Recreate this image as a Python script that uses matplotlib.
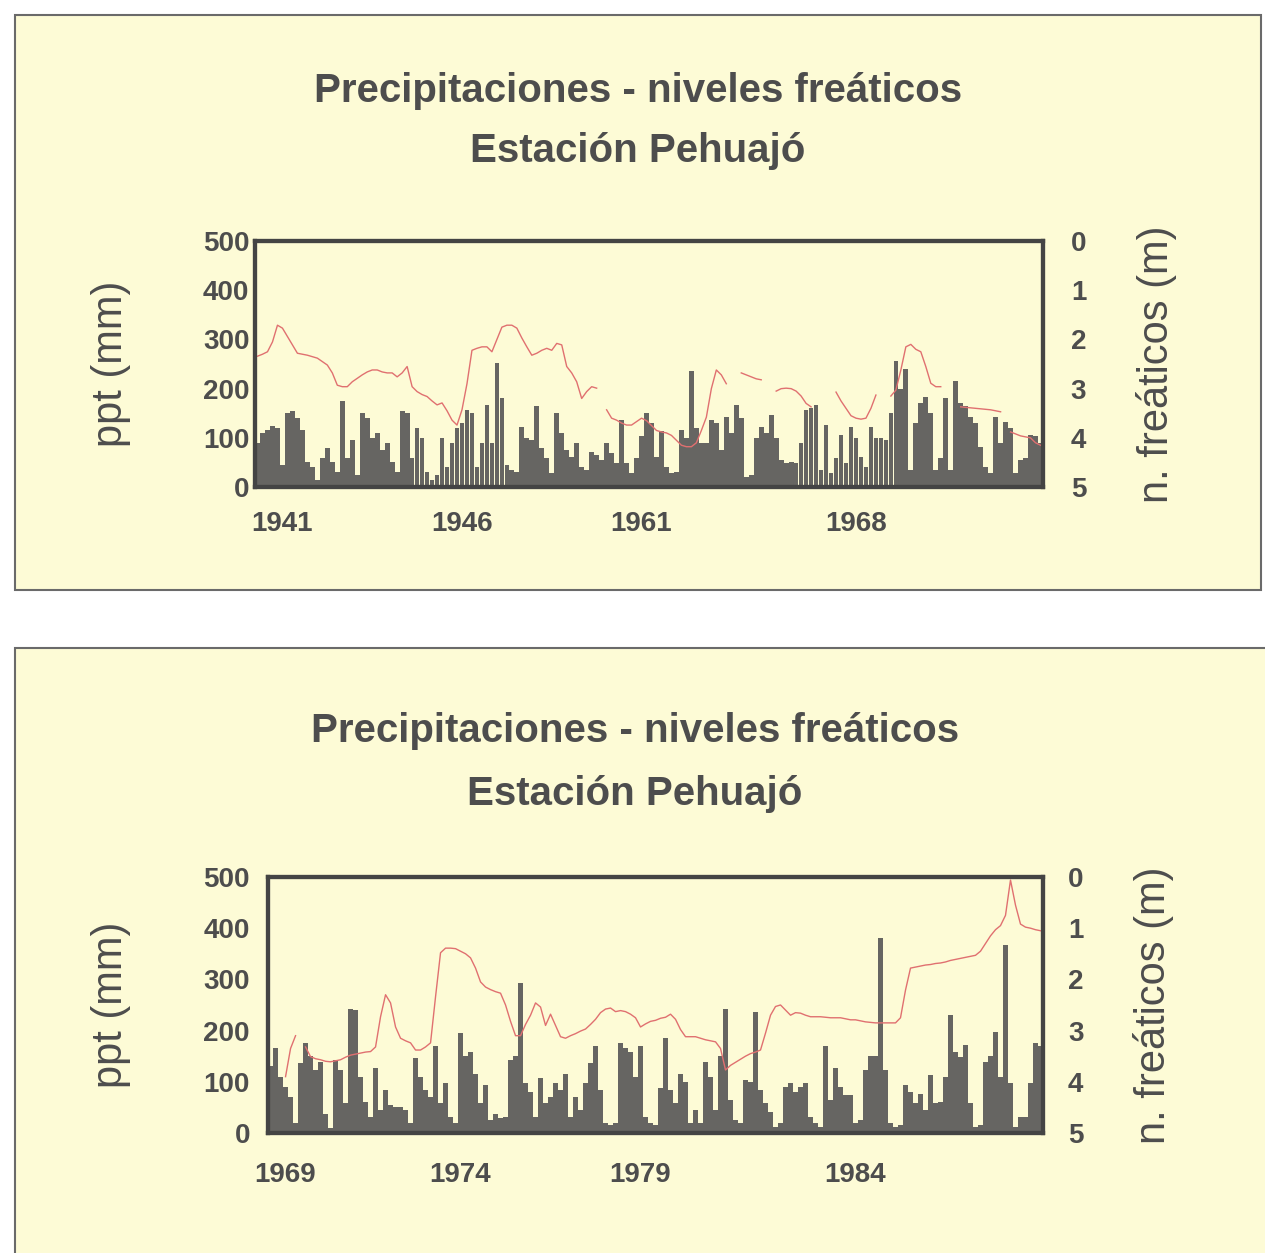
import numpy as np
import matplotlib
matplotlib.use("Agg")
from matplotlib import pyplot as plt
from matplotlib.patches import Rectangle

nan = np.nan

# monthly precipitation (mm) and water table depth (m), panel 1
ppt_top = [90, 110, 115, 125, 120, 45, 150, 155, 140, 115,
           50, 40, 15, 60, 80, 50, 30, 175, 60, 95,
           25, 150, 140, 100, 110, 75, 90, 50, 30, 155,
           150, 60, 120, 100, 30, 15, 25, 100, 40, 90,
           120, 130, 157, 150, 40, 90, 167, 90, 252, 180,
           45, 35, 30, 123, 100, 96, 164, 80, 60, 28,
           150, 110, 75, 62, 89, 40, 35, 72, 65, 55,
           89, 70, 48, 137, 48, 28, 60, 103, 150, 130,
           62, 113, 40, 28, 30, 116, 100, 235, 120, 89,
           89, 137, 130, 75, 143, 110, 167, 140, 20, 25,
           100, 123, 110, 147, 100, 55, 48, 50, 48, 89,
           157, 160, 167, 35, 127, 28, 60, 106, 48, 123,
           100, 62, 40, 123, 100, 100, 95, 150, 256, 200,
           240, 35, 130, 170, 184, 150, 35, 60, 181, 35,
           215, 170, 164, 143, 130, 82, 40, 28, 143, 89,
           133, 120, 28, 55, 60, 106, 103, 90]
lvl_top = [2.34, 2.30, 2.25, 2.05, 1.71, 1.77, 1.94, 2.11, 2.28, 2.30,
           2.32, 2.35, 2.38, 2.45, 2.52, 2.68, 2.93, 2.96, 2.96, 2.86,
           2.79, 2.72, 2.66, 2.62, 2.62, 2.66, 2.68, 2.68, 2.76, 2.68,
           2.55, 2.96, 3.06, 3.12, 3.16, 3.25, 3.33, 3.29, 3.45, 3.64,
           3.74, 3.43, 2.90, 2.22, 2.18, 2.15, 2.15, 2.25, 2.00, 1.75,
           1.71, 1.71, 1.77, 1.97, 2.15, 2.32, 2.28, 2.22, 2.18, 2.22,
           2.08, 2.11, 2.55, 2.68, 2.86, 3.20, 3.06, 2.96, 2.99, nan,
           3.43, 3.60, 3.64, 3.70, 3.74, 3.74, 3.67, 3.60, 3.65, 3.75,
           3.85, 3.88, 3.90, 3.95, 4.05, 4.15, 4.18, 4.18, 4.10, 3.85,
           3.58, 3.00, 2.62, 2.72, 2.90, nan, nan, 2.68, 2.72, 2.76,
           2.80, 2.82, nan, nan, 3.05, 3.00, 2.99, 3.00, 3.05, 3.15,
           3.30, 3.37, nan, nan, nan, nan, 3.07, 3.25, 3.40, 3.55,
           3.60, 3.62, 3.60, 3.40, 3.13, nan, nan, 3.15, 3.03, 2.62,
           2.15, 2.10, 2.20, 2.25, 2.55, 2.89, 2.96, 2.96, nan, nan,
           nan, 3.37, 3.38, 3.39, 3.40, 3.41, 3.42, 3.43, 3.45, 3.47,
           nan, 3.88, 3.92, 3.96, 3.98, 4.00, 4.10, 4.15]
years_top = ["1941", "1946", "1961", "1968"]
year_idx_top = [5, 41, 77, 120]

# panel 2
ppt_bot = [130, 165, 110, 90, 71, 19, 136, 175, 150, 123,
           139, 38, 10, 143, 123, 58, 243, 240, 110, 60,
           32, 126, 45, 84, 55, 51, 50, 45, 19, 146,
           110, 84, 71, 169, 58, 97, 32, 20, 195, 150,
           159, 116, 58, 94, 25, 38, 30, 32, 143, 150,
           292, 97, 80, 32, 107, 58, 70, 97, 84, 116,
           32, 71, 45, 97, 136, 169, 84, 19, 15, 19,
           175, 165, 159, 110, 169, 32, 19, 15, 87, 185,
           84, 58, 116, 100, 19, 45, 20, 139, 110, 45,
           150, 243, 64, 25, 19, 104, 100, 237, 84, 58,
           40, 12, 20, 90, 97, 80, 90, 97, 32, 20,
           12, 169, 64, 126, 90, 74, 74, 19, 25, 123,
           150, 150, 380, 123, 20, 12, 15, 94, 80, 58,
           77, 45, 113, 58, 60, 110, 230, 159, 149, 172,
           58, 12, 15, 139, 150, 198, 110, 367, 97, 12,
           32, 32, 97, 175, 170]
lvl_bot = [nan, nan, nan, 3.90, 3.35, 3.10, nan, 3.32, 3.51, 3.55,
           3.57, 3.60, 3.61, 3.59, 3.57, 3.52, 3.48, 3.46, 3.44, 3.42,
           3.41, 3.32, 2.73, 2.30, 2.46, 2.93, 3.15, 3.20, 3.24, 3.38,
           3.38, 3.32, 3.24, 2.34, 1.48, 1.39, 1.39, 1.40, 1.45, 1.50,
           1.58, 1.78, 2.05, 2.15, 2.20, 2.24, 2.27, 2.50, 2.82, 3.10,
           3.10, 2.88, 2.70, 2.46, 2.54, 2.90, 2.68, 2.90, 3.12, 3.15,
           3.10, 3.06, 3.01, 2.97, 2.88, 2.78, 2.65, 2.58, 2.56, 2.63,
           2.61, 2.63, 2.68, 2.75, 2.93, 2.87, 2.82, 2.80, 2.76, 2.74,
           2.68, 2.78, 2.98, 3.12, 3.12, 3.12, 3.15, 3.18, 3.20, 3.22,
           3.35, 3.77, 3.68, 3.62, 3.56, 3.50, 3.45, 3.42, 3.38, 3.05,
           2.70, 2.53, 2.50, 2.60, 2.70, 2.65, 2.66, 2.70, 2.73, 2.73,
           2.73, 2.74, 2.75, 2.75, 2.75, 2.77, 2.79, 2.79, 2.81, 2.83,
           2.84, 2.85, 2.85, 2.85, 2.85, 2.85, 2.75, 2.21, 1.78, 1.76,
           1.74, 1.72, 1.71, 1.69, 1.68, 1.66, 1.63, 1.61, 1.59, 1.57,
           1.55, 1.53, 1.45, 1.30, 1.15, 1.03, 0.95, 0.75, 0.06, 0.55,
           0.92, 0.98, 1.00, 1.03, 1.05]
years_bot = ["1969", "1974", "1979", "1984"]
year_idx_bot = [3, 38, 74, 117]

plt.rcParams["font.family"] = ["Liberation Sans", "DejaVu Sans"]
txt = "#4d4d4d"
paper = "#fdfbd6"

fig = plt.figure(figsize=(12.65, 12.53), dpi=100, facecolor="white")

# the two scanned chart frames (behind the axes)
fig.patches.append(Rectangle((0.012, 0.529), 0.985, 0.459, transform=fig.transFigure,
                             facecolor=paper, edgecolor="#6a6a6a", lw=1.5, zorder=-5))
fig.patches.append(Rectangle((0.012, -0.02), 1.0, 0.503, transform=fig.transFigure,
                             facecolor=paper, edgecolor="#6a6a6a", lw=1.5, zorder=-5))


def panel(rect, ppt, lvl, years, year_idx, cx, title_y1, title_y2, xpad, ypad, rpad):
    ax = fig.add_axes(rect)
    x = np.arange(len(ppt))
    ax.bar(x, ppt, width=0.95, color="#555555", alpha=0.9, linewidth=0)
    ax.set_xlim(-0.5, len(ppt) - 0.5)
    ax.set_ylim(0, 500)
    ax.set_yticks([0, 100, 200, 300, 400, 500])
    ax.set_xticks(year_idx)
    ax.set_xticklabels(years)
    ax.set_facecolor(paper)
    ax.tick_params(axis="both", length=0, labelsize=20, colors=txt)
    ax.tick_params(axis="x", pad=xpad)
    ax.tick_params(axis="y", pad=ypad)
    for lab in ax.get_xticklabels() + ax.get_yticklabels():
        lab.set_fontweight("bold")
    ax.set_ylabel("ppt (mm)", fontsize=30, color=txt, labelpad=52)

    ax2 = ax.twinx()
    ax2.plot(x, lvl, color="#e07070", lw=1.0)
    ax2.set_ylim(5, 0)
    ax2.set_yticks([0, 1, 2, 3, 4, 5])
    ax2.tick_params(axis="y", length=0, labelsize=20, colors=txt, pad=rpad)
    for lab in ax2.get_yticklabels():
        lab.set_fontweight("bold")
    ax2.set_ylabel("n. freáticos (m)", fontsize=30, color=txt, labelpad=36)

    for a in (ax, ax2):
        for s in a.spines.values():
            s.set_color("#444444")
            s.set_linewidth(3)

    fig.text(cx, title_y1, "Precipitaciones - niveles freáticos", ha="center", va="center",
             fontsize=29, fontweight="bold", color=txt)
    fig.text(cx, title_y2, "Estación Pehuajó", ha="center", va="center",
             fontsize=29, fontweight="bold", color=txt)
    return ax, ax2


panel([0.2016, 0.6113, 0.6229, 0.1963], ppt_top, lvl_top, years_top, year_idx_top,
      638 / 1265, 1 - 91 / 1253, 1 - 151 / 1253, 17, 4, 20)
panel([0.2119, 0.0958, 0.6126, 0.2043], ppt_bot, lvl_bot, years_bot, year_idx_bot,
      635 / 1265, 1 - 731 / 1253, 1 - 794 / 1253, 21, 13, 18)

fig.savefig("out.png", dpi=100, facecolor="white")
